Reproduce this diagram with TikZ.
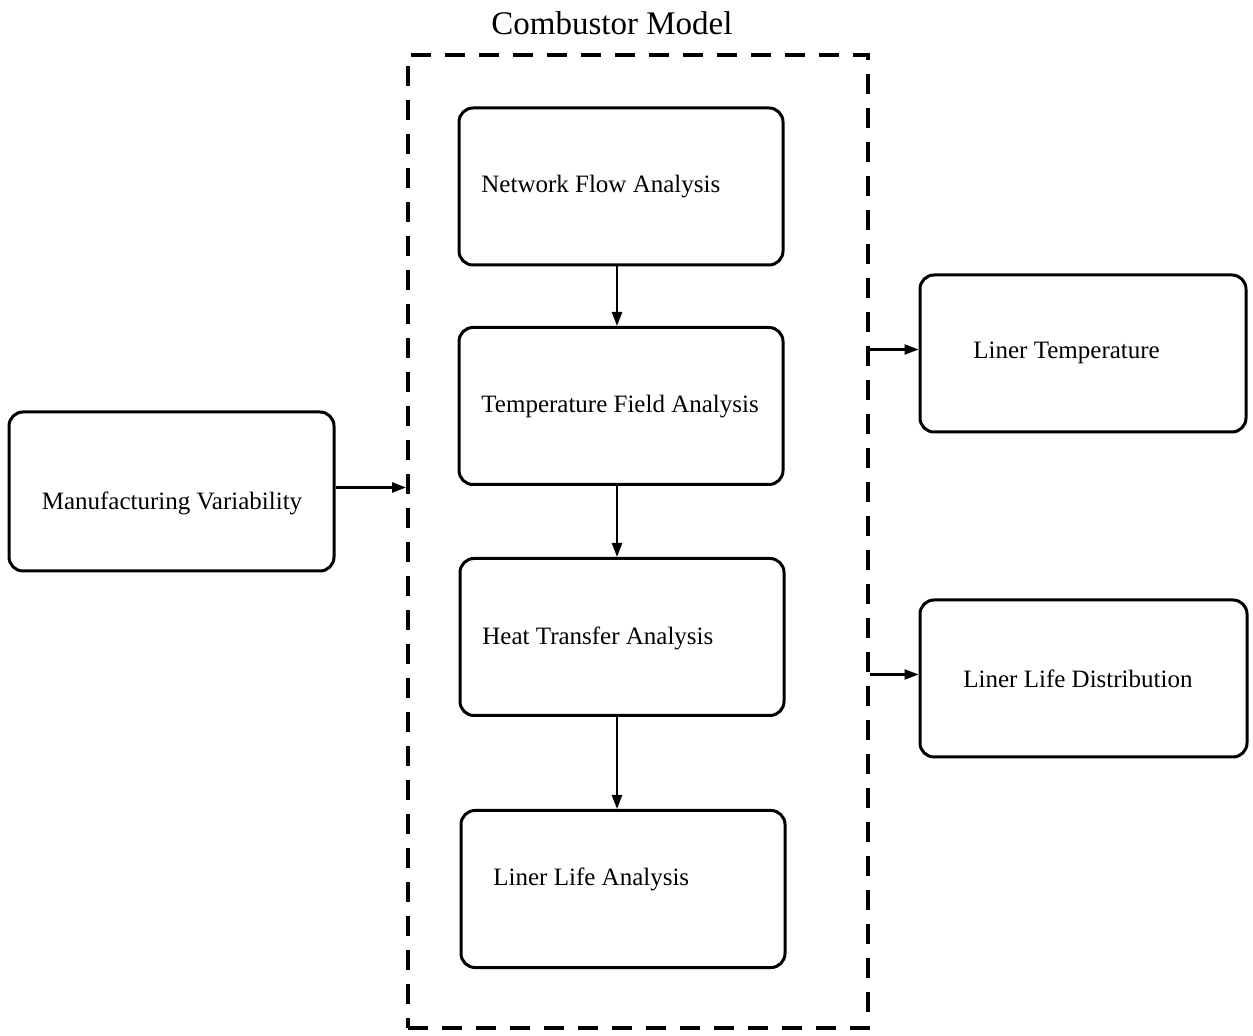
\documentclass[tikz,border=0pt]{standalone}
\usepackage{fontspec}
\setmainfont{Liberation Serif}
\usetikzlibrary{arrows.meta}
\begin{document}
\begin{tikzpicture}[x=0.5pt,y=-0.5pt,
  box/.style={draw,line width=1.5pt,rounded corners=7pt,minimum width=162pt,minimum height=78.5pt,inner sep=0pt},
  lbl/.style={font=\fontsize{12.5}{15}\selectfont,inner sep=0pt},
  dashbox/.style={draw,line width=2pt,dash pattern=on 10pt off 7pt,minimum width=230pt,minimum height=486.5pt,inner sep=0pt},
  arr/.style={line width=1.2pt,-{Triangle[length=7pt,width=5pt]}}]
\useasboundingbox (0,0) rectangle (1253,1036);
\node[font=\fontsize{16.5}{20}\selectfont,inner sep=0pt] (title) at (612,23) {Combustor Model};
\node[dashbox] (cm) at (638,541.5) {};
\node[box] (nfa) at (621,186.5) {};
\node[box] (tfa) at (621,406) {};
\node[box] (hta) at (622,637) {};
\node[box] (lla) at (623,889) {};
\node[box,minimum width=162.5pt,minimum height=79.5pt] (mv) at (171.5,491.5) {};
\node[box,minimum width=163pt] (lt) at (1083,353.5) {};
\node[box,minimum width=163.5pt] (lld) at (1083.5,678.5) {};
\node[lbl,anchor=west] (tnfa) at (481,187) {Network Flow Analysis};
\node[lbl,anchor=west] (ttfa) at (481,407) {Temperature Field Analysis};
\node[lbl,anchor=west] (thta) at (482,638) {Heat Transfer Analysis};
\node[lbl,anchor=west] (tlla) at (493,879) {Liner Life Analysis};
\node[lbl] (tmv) at (172,503) {Manufacturing Variability};
\node[lbl,anchor=west] (tlt) at (973,353) {Liner Temperature};
\node[lbl,anchor=west] (tlld) at (963,679) {Liner Life Distribution};
\coordinate (ax) at (617,0);
\draw[arr] (nfa.south -| ax) -- (tfa.north -| ax);
\draw[arr] (tfa.south -| ax) -- (hta.north -| ax);
\draw[arr] (hta.south -| ax) -- (lla.north -| ax);
\draw[arr] (mv.east) ++(0,-4) coordinate (mvo) -- (mvo -| cm.west);
\draw[arr] (cm.east |- lt.west) ++(0,-4) coordinate (lto) -- (lto -| lt.west);
\draw[arr] (cm.east |- lld.west) ++(0,-4) coordinate (lldo) -- (lldo -| lld.west);
\end{tikzpicture}
\end{document}
